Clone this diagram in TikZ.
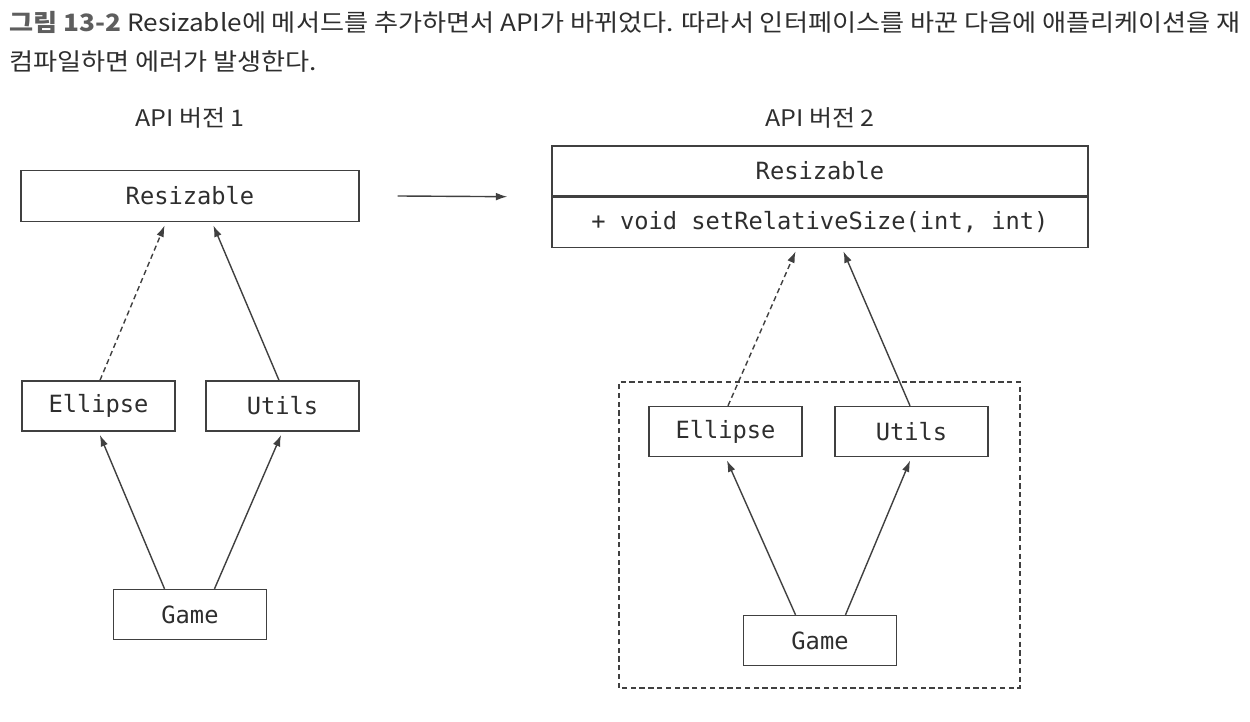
\documentclass[tikz,border=0pt]{standalone}
\usepackage{fontspec}
\usepackage{graphicx}
\setmainfont{Noto Sans CJK KR}
\newfontfamily\codefont{DejaVu Sans Mono}
\usepackage{tikz}
\usetikzlibrary{positioning, arrows.meta}

\definecolor{inkgray}{HTML}{2E2E2E}
\definecolor{linegray}{HTML}{404040}
\definecolor{figgray}{HTML}{5E5E5E}

\newcommand{\widetext}[1]{\scalebox{1.095}[1]{#1}}

\begin{document}
\begin{tikzpicture}[
  box/.style={draw=linegray, line width=0.8pt, minimum width=3.06cm, minimum height=1.0cm,
    inner sep=0pt, text=inkgray, font=\codefont\fontsize{13.5}{15}\selectfont},
  wide/.style={box, minimum width=6.76cm, minimum height=1.02cm},
  uses/.style={draw=linegray, line width=0.8pt, -{Latex[length=6.5pt, width=4.4pt]}, shorten >=2pt},
  impl/.style={uses, dash pattern=on 3pt off 2pt},
  version/.style={text=inkgray, font=\fontsize{13}{15}\selectfont},
  caption/.style={anchor=base west, inner sep=0pt, text=inkgray, font=\fontsize{13.6}{16}\selectfont}
]
\useasboundingbox (0, 0) rectangle (25, 14.44);

% --- CAPTION ---
\node[caption] (cap1) at (0.18, 13.8) {\widetext{{\color{figgray}\bfseries 그림 13-2} Resizable에 메서드를 추가하면서 API가 바뀌었다. 따라서 인터페이스를 바꾼 다음에 애플리케이션을 재}};
\node[caption] (cap2) at (0.18, 13.02) {\widetext{컴파일하면 에러가 발생한다.}};

% --- LEFT SIDE: API VERSION 1 ---
\begin{scope}[xshift=3.8cm]
\node[version] (v1) at (0, 12.08) {\widetext{API 버전 1}};
\node[wide] (r1) at (0, 10.52) {Resizable};
\node[box] (e1) at (-1.83, 6.32) {Ellipse};
\node[box] (u1) at (1.85, 6.32) {Utils};
\node[box] (g1) at (0, 2.15) {Game};

\draw[impl] ([xshift=0.03cm]e1.north) -- ([xshift=-0.48cm]r1.south);
\draw[uses] ([xshift=-0.07cm]u1.north) -- ([xshift=0.44cm]r1.south);
\draw[uses] ([xshift=-0.51cm]g1.north) -- (e1.south);
\draw[uses] ([xshift=0.49cm]g1.north) -- (u1.south);
\end{scope}

% --- RIGHT SIDE: API VERSION 2 ---
\begin{scope}[xshift=16.4cm]
\node[version] (v2) at (0, 12.08) {\widetext{API 버전 2}};
\node[box, minimum width=10.72cm] (r2) at (0, 11.02) {Resizable};
\node[box, minimum width=10.72cm, below=0pt of r2] (r2m) {+ void setRelativeSize(int, int)};

% recompiled application
\draw[linegray, line width=0.8pt, dash pattern=on 3pt off 2pt] (-4.02, 0.68) rectangle (4.0, 6.8);
\node[box] (e2) at (-1.89, 5.81) {Ellipse};
\node[box] (u2) at (1.83, 5.81) {Utils};
\node[box] (g2) at (0, 1.63) {Game};

\draw[impl] ([xshift=0.05cm]e2.north) -- ([xshift=-0.46cm]r2m.south);
\draw[uses] ([xshift=-0.03cm]u2.north) -- ([xshift=0.44cm]r2m.south);
\draw[uses] ([xshift=-0.49cm]g2.north) -- (e2.south);
\draw[uses] ([xshift=0.51cm]g2.north) -- (u2.south);
\end{scope}

% --- version change ---
\draw[uses, shorten >=0pt] ([xshift=0.76cm]r1.east) -- ([xshift=-0.88cm]r2.south west);
\end{tikzpicture}
\end{document}
